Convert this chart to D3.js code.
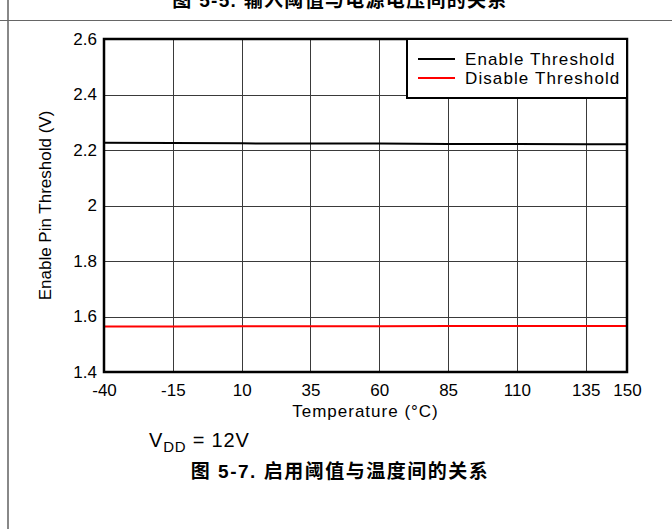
<!DOCTYPE html>
<html><head><meta charset="utf-8">
<script src="https://cdn.jsdelivr.net/npm/d3@7"></script>
<style>body{margin:0;background:#fff}svg{display:block}</style>
</head><body>
<script>
const temps = [-40, -15, 10, 35, 60, 85, 110, 135, 150];
const enableThreshold = [2.226, 2.225, 2.224, 2.223, 2.223, 2.222, 2.222, 2.221, 2.221];
const disableThreshold = [1.564, 1.564, 1.565, 1.565, 1.565, 1.566, 1.566, 1.566, 1.566];
const xTicks = [-40, -15, 10, 35, 60, 85, 110, 135, 150];
const yTicks = [1.4, 1.6, 1.8, 2, 2.2, 2.4, 2.6];
const seriesNames = ["Enable Threshold", "Disable Threshold"];
const seriesColors = ["#000000", "#ff0000"];

const W = 672, H = 529;
const m = {left: 104, right: 627, top: 39, bottom: 372};
const FONT = "'Liberation Sans', Arial, sans-serif";
const svg = d3.select("body").append("svg").attr("width", W).attr("height", H)
  .style("font-family", FONT);

// page decorations
svg.append("line").attr("x1", 8).attr("x2", 8).attr("y1", 0).attr("y2", H)
  .attr("stroke", "#888").attr("stroke-width", 2);
svg.append("line").attr("x1", 0).attr("x2", W).attr("y1", 20.5).attr("y2", 20.5)
  .attr("stroke", "#666").attr("stroke-width", 1);
svg.append("text").attr("x", 340).attr("y", 7).attr("text-anchor", "middle")
  .attr("font-size", 19).attr("font-weight", "bold").attr("letter-spacing", 1.3)
  .style("font-family", "'Liberation Sans', 'Noto Sans CJK SC', sans-serif")
  .text("图 5-5. 输入阈值与电源电压间的关系");

const x = d3.scaleLinear().domain([-40, 150]).range([m.left, m.right]);
const y = d3.scaleLinear().domain([1.4, 2.6]).range([m.bottom, m.top]);

// grid
const grid = svg.append("g");
grid.selectAll("line.v").data(xTicks.slice(1, -1)).join("line")
  .attr("x1", d => Math.round(x(d)) + 0.5).attr("x2", d => Math.round(x(d)) + 0.5)
  .attr("y1", m.top).attr("y2", m.bottom).attr("stroke", "#3a3a3a").attr("stroke-width", 1);
grid.selectAll("line.h").data(yTicks.slice(1, -1)).join("line")
  .attr("y1", d => Math.round(y(d)) + 0.5).attr("y2", d => Math.round(y(d)) + 0.5)
  .attr("x1", m.left).attr("x2", m.right).attr("stroke", "#3a3a3a").attr("stroke-width", 1);

// axes (labels only)
const xAxis = svg.append("g").attr("transform", `translate(0,${m.bottom})`)
  .call(d3.axisBottom(x).tickValues(xTicks).tickSize(0).tickPadding(12).tickFormat(d => String(d)));
const yAxis = svg.append("g").attr("transform", `translate(${m.left},0)`)
  .call(d3.axisLeft(y).tickValues(yTicks).tickSize(0).tickPadding(7).tickFormat(d => String(d)));
[xAxis, yAxis].forEach(a => {
  a.select(".domain").remove();
  a.selectAll("text").attr("font-size", 17).attr("fill", "#000")
    .style("font-family", FONT);
});

// lines
const line = d3.line().x((d, i) => x(temps[i])).y(d => y(d));
[enableThreshold, disableThreshold].forEach((s, k) => {
  svg.append("path").datum(s).attr("d", line).attr("fill", "none")
    .attr("stroke", seriesColors[k]).attr("stroke-width", 2);
});

// frame
svg.append("rect").attr("x", m.left).attr("y", m.top)
  .attr("width", m.right - m.left).attr("height", m.bottom - m.top)
  .attr("fill", "none").attr("stroke", "#000").attr("stroke-width", 2.5);

// legend
const lg = svg.append("g");
lg.append("rect").attr("x", 407).attr("y", m.top).attr("width", m.right - 407).attr("height", 59)
  .attr("fill", "#fff").attr("stroke", "#000").attr("stroke-width", 2);
seriesNames.forEach((n, i) => {
  const yy = 59 + i * 19;
  lg.append("line").attr("x1", 418).attr("x2", 455).attr("y1", yy).attr("y2", yy)
    .attr("stroke", seriesColors[i]).attr("stroke-width", 2);
  lg.append("text").attr("x", 465).attr("y", yy).attr("dy", "0.35em")
    .attr("font-size", 17).attr("letter-spacing", 1.1).text(n);
});

// axis titles
svg.append("text").attr("x", (m.left + m.right) / 2).attr("y", 411).attr("dy", "0.35em")
  .attr("text-anchor", "middle").attr("font-size", 17).attr("letter-spacing", 1).text("Temperature (°C)");
svg.append("text").attr("transform", `translate(45,${(m.top + m.bottom) / 2}) rotate(-90)`)
  .attr("dy", "0.35em").attr("text-anchor", "middle").attr("font-size", 17)
  .text("Enable Pin Threshold (V)");

// VDD note
const vt = svg.append("text").attr("x", 149).attr("y", 447).attr("font-size", 20).attr("letter-spacing", 0.8);
vt.append("tspan").text("V");
vt.append("tspan").attr("font-size", 15).attr("dy", 5).text("DD");
vt.append("tspan").attr("dy", -5).text(" = 12V");

// caption
svg.append("text").attr("x", 340).attr("y", 478).attr("text-anchor", "middle")
  .attr("font-size", 19).attr("font-weight", "bold").attr("letter-spacing", 1.5)
  .style("font-family", "'Liberation Sans', 'Noto Sans CJK SC', sans-serif")
  .text("图 5-7. 启用阈值与温度间的关系");
</script>
</body></html>
